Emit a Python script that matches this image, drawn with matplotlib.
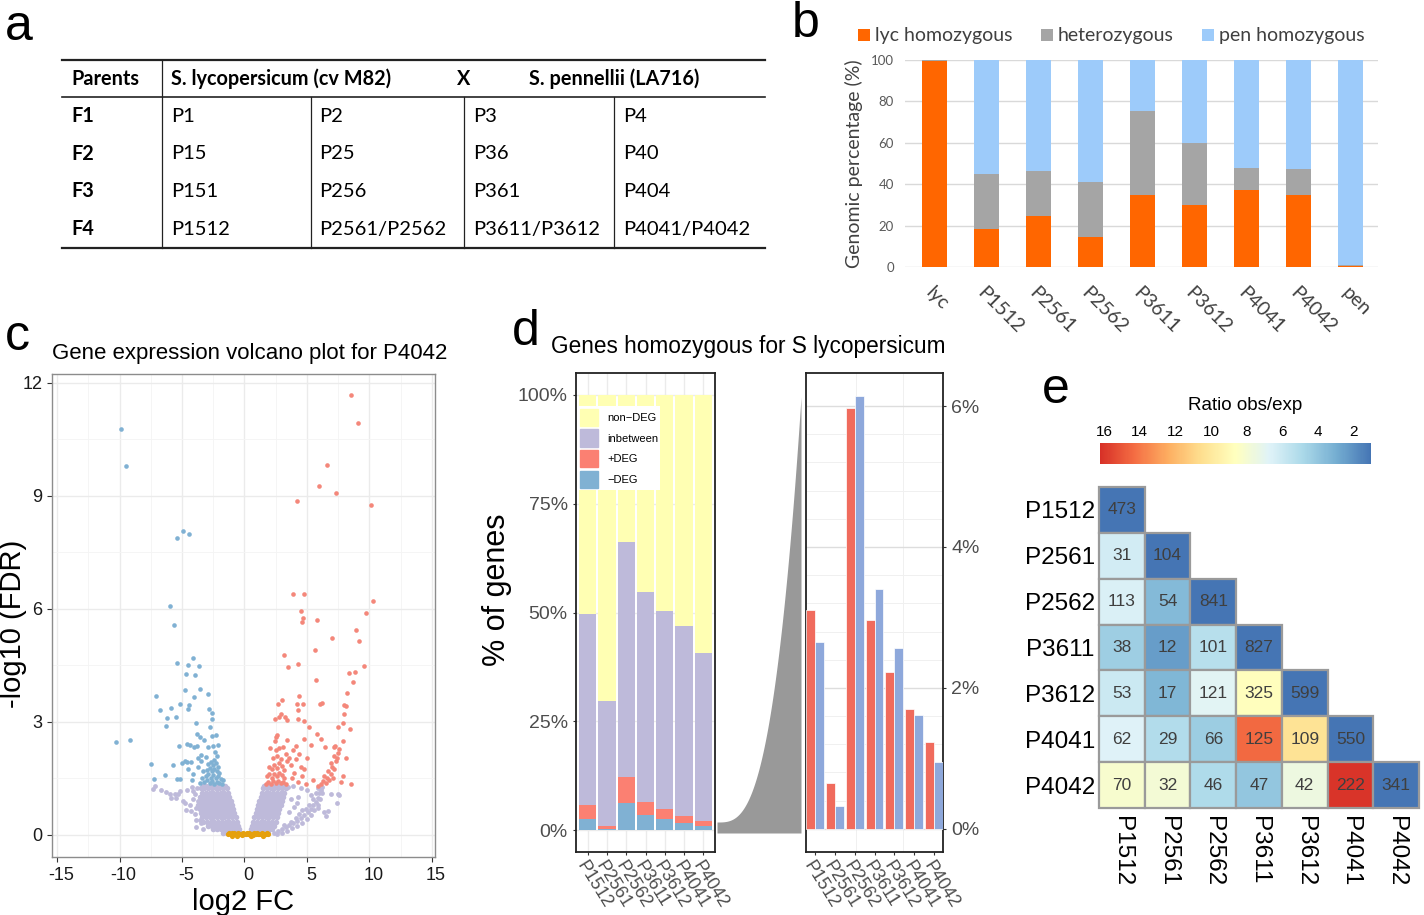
import matplotlib
matplotlib.use("Agg")
import matplotlib.pyplot as plt
import numpy as np
from matplotlib.colors import LinearSegmentedColormap, Normalize
from matplotlib.patches import Patch, Rectangle
from matplotlib.transforms import ScaledTranslation

plt.rcParams["font.family"] = ["Liberation Sans", "DejaVu Sans"]
plt.rcParams["axes.unicode_minus"] = False
CAL = ["Lato", "DejaVu Sans"]

W, H = 1424, 915

# ---------------- panel a: cross table ----------------
table_header = ["Parents", "S. lycopersicum (cv M82)", "X", "S. pennellii (LA716)"]
generations = ["F1", "F2", "F3", "F4"]
table_rows = [
    ["P1", "P2", "P3", "P4"],
    ["P15", "P25", "P36", "P40"],
    ["P151", "P256", "P361", "P404"],
    ["P1512", "P2561/P2562", "P3611/P3612", "P4041/P4042"],
]

# ---------------- panel b: genome composition ----------------
b_lines = ["lyc", "P1512", "P2561", "P2562", "P3611", "P3612", "P4041", "P4042", "pen"]
b_lyc = [99.5, 18.5, 24.5, 14.5, 35.0, 30.0, 37.0, 35.0, 0.5]
b_het = [0.5, 26.5, 22.0, 26.5, 40.5, 30.0, 11.0, 12.5, 0.5]
b_pen = [0.0, 55.0, 53.5, 59.0, 24.5, 40.0, 52.0, 52.5, 99.0]
b_names = ["lyc homozygous", "heterozygous", "pen homozygous"]
b_colors = ["#FF6600", "#A5A5A5", "#9DCBFA"]

# ---------------- panel c: volcano (log2 FC, -log10 FDR) ----------------
down_deg = [
    (-9.87, 10.76), (-9.52, 9.80), (-4.93, 8.07), (-5.39, 7.88), (-4.45, 7.97), (-5.95, 6.08),
    (-5.63, 5.56), (-5.44, 4.56), (-4.13, 4.68), (-4.5, 4.51), (-3.65, 4.48), (-4.67, 4.27),
    (-4.0, 4.23), (-4.75, 3.85), (-3.55, 3.87), (-4.05, 3.65), (-2.9, 3.73), (-7.07, 3.68),
    (-6.75, 3.32), (-5.87, 3.37), (-5.2, 3.47), (-4.43, 3.44), (-4.53, 3.34), (-2.88, 3.34),
    (-2.59, 3.22), (-6.19, 3.11), (-5.47, 3.12), (-6.27, 2.90), (-2.61, 3.07), (-3.92, 2.96),
    (-2.77, 2.86), (-3.81, 2.67), (-3.6, 2.60), (-3.23, 2.52), (-2.61, 2.63), (-2.27, 2.66),
    (-10.29, 2.47), (-9.2, 2.52), (-5.28, 2.36), (-4.59, 2.41), (-4.37, 2.39), (-3.81, 2.35),
    (-4.03, 2.33), (-2.96, 2.33), (-2.53, 2.35), (-2.13, 2.38), (-3.47, 2.11), (-3.07, 2.06),
    (-2.32, 2.20), (-2.21, 2.08), (-4.77, 1.97), (-4.61, 1.92), (-4.27, 1.94), (-4.99, 1.90),
    (-7.52, 1.88), (-5.73, 1.85), (-4.51, 1.75), (-4.13, 1.62), (-3.71, 1.80), (-6.35, 1.58),
    (-7.28, 1.47), (-5.39, 1.47), (-5.17, 1.47), (-4.21, 1.45),
    (-3.2, 1.40), (-3.0, 1.45), (-2.8, 1.38), (-2.6, 1.42), (-2.4, 1.36), (-2.2, 1.40),
    (-2.0, 1.37), (-1.8, 1.35), (-3.1, 1.55), (-2.9, 1.60), (-2.7, 1.52), (-2.5, 1.58),
    (-2.3, 1.50), (-2.1, 1.55), (-1.9, 1.48), (-3.0, 1.72), (-2.8, 1.78), (-2.6, 1.70),
    (-2.4, 1.75), (-2.2, 1.68), (-2.0, 1.65), (-2.9, 1.88), (-2.7, 1.92), (-2.5, 1.86),
    (-2.3, 1.90), (-2.45, 1.98), (-3.3, 1.70), (-3.4, 1.50), (-3.6, 1.38), (-1.7, 1.45),
    (-2.15, 1.80), (-3.5, 1.95), (-3.7, 2.05),
]
up_deg = [
    (8.53, 11.67), (9.12, 10.93), (6.59, 9.81), (6.0, 9.27), (7.31, 9.06), (4.24, 8.85),
    (10.16, 8.74), (3.92, 6.39), (4.75, 6.40), (10.29, 6.21), (4.56, 5.95), (9.73, 5.89),
    (4.67, 5.75), (5.81, 5.71), (4.59, 5.64), (8.91, 5.43), (6.99, 5.22), (9.2, 5.15),
    (5.63, 4.90), (3.15, 4.76), (3.49, 4.45), (4.29, 4.52), (9.57, 4.49), (8.37, 4.30),
    (8.85, 4.33), (5.73, 4.11), (8.69, 4.05), (4.35, 3.68), (8.19, 3.77), (2.99, 3.58),
    (2.72, 3.48), (4.24, 3.47), (4.72, 3.46), (6.08, 3.48), (6.21, 3.49), (7.95, 3.45),
    (8.13, 3.42), (4.29, 3.32), (2.93, 3.20), (3.23, 3.12), (7.95, 3.21), (2.48, 3.06),
    (2.75, 3.12), (4.29, 3.06), (4.77, 3.02), (3.44, 3.04), (7.87, 2.97), (5.2, 2.85),
    (7.52, 2.86), (8.45, 2.82), (5.79, 2.67), (2.59, 2.65), (2.53, 2.59), (2.43, 2.49),
    (4.77, 2.54), (6.16, 2.53), (3.41, 2.52), (7.87, 2.50), (6.45, 2.32), (7.15, 2.33),
    (7.28, 2.35), (5.33, 2.37), (4.16, 2.36), (2.05, 2.29), (3.09, 2.32),
    (1.7, 1.36), (1.9, 1.40), (2.1, 1.35), (2.3, 1.42), (2.5, 1.38), (2.7, 1.44), (2.9, 1.37),
    (3.1, 1.41), (3.3, 1.36), (1.8, 1.55), (2.0, 1.60), (2.2, 1.52), (2.4, 1.62), (2.6, 1.56),
    (2.8, 1.65), (3.0, 1.58), (3.2, 1.52), (2.0, 1.80), (2.2, 1.75), (2.4, 1.85), (2.6, 1.78),
    (2.8, 1.90), (3.0, 1.82), (3.2, 1.72), (3.4, 1.95), (2.3, 2.05), (2.6, 2.10), (2.9, 2.02),
    (3.3, 2.15), (2.5, 2.25), (2.8, 2.30), (3.6, 2.05), (3.8, 1.50), (4.0, 1.65), (4.3, 1.40),
    (4.6, 1.55), (3.7, 1.85), (4.1, 2.00), (4.5, 1.80), (4.9, 1.35), (3.9, 2.25), (4.4, 2.15),
    (5.0, 2.05), (4.8, 1.75), (6.1, 1.35), (6.3, 1.42), (6.4, 1.55), (6.6, 1.50), (6.7, 1.68),
    (6.9, 1.62), (7.0, 1.80), (7.2, 1.75), (7.3, 1.95), (7.4, 2.05), (7.5, 2.18), (7.6, 2.28),
    (6.5, 1.38), (6.8, 1.45), (7.1, 1.52), (6.9, 1.90), (7.2, 2.10), (7.7, 1.40), (8.5, 1.35),
    (5.9, 1.30), (5.5, 1.45), (7.9, 1.55), (8.1, 2.05),
]
# dense lavender arms, read row by row: (y, [x, ...])
inbetween_left = [
    (0.04, [-0.35, -0.6, -0.85, -1.1, -1.4, -1.7]),
    (0.14, [-0.42, -0.7, -1.0, -1.3, -1.6, -1.9, -2.2, -2.5]),
    (0.24, [-0.5, -0.8, -1.1, -1.4, -1.7, -2.0, -2.3, -2.6, -2.9]),
    (0.35, [-0.6, -0.9, -1.2, -1.5, -1.8, -2.1, -2.4, -2.7, -3.0, -3.3]),
    (0.46, [-0.7, -1.0, -1.3, -1.6, -1.9, -2.2, -2.5, -2.8, -3.1, -3.4]),
    (0.57, [-0.8, -1.1, -1.4, -1.7, -2.0, -2.3, -2.6, -2.9, -3.2, -3.5]),
    (0.68, [-0.9, -1.2, -1.5, -1.8, -2.1, -2.4, -2.7, -3.0, -3.3, -3.6]),
    (0.79, [-1.0, -1.3, -1.6, -1.9, -2.2, -2.5, -2.8, -3.1, -3.4, -3.7]),
    (0.90, [-1.1, -1.4, -1.7, -2.0, -2.3, -2.6, -2.9, -3.2, -3.5]),
    (1.01, [-1.2, -1.5, -1.8, -2.1, -2.4, -2.7, -3.0, -3.3, -3.6]),
    (1.12, [-1.3, -1.6, -1.9, -2.2, -2.5, -2.8, -3.1, -3.4]),
    (1.23, [-1.4, -1.7, -2.0, -2.3, -2.6, -2.9, -3.2, -3.5]),
    (1.30, [-1.55, -1.85, -2.15, -2.45, -2.75, -3.05, -3.35]),
]
inbetween_right = [
    (0.04, [0.4, 0.7, 1.0, 1.3, 1.6, 1.9]),
    (0.14, [0.5, 0.8, 1.1, 1.4, 1.7, 2.0, 2.2]),
    (0.24, [0.6, 0.9, 1.2, 1.5, 1.8, 2.1, 2.4]),
    (0.35, [0.7, 1.0, 1.3, 1.6, 1.9, 2.2, 2.5]),
    (0.46, [0.8, 1.1, 1.4, 1.7, 2.0, 2.3, 2.6]),
    (0.57, [0.9, 1.2, 1.5, 1.8, 2.1, 2.4, 2.7]),
    (0.68, [1.0, 1.3, 1.6, 1.9, 2.2, 2.5, 2.8]),
    (0.79, [1.1, 1.4, 1.7, 2.0, 2.3, 2.6, 2.9]),
    (0.90, [1.2, 1.5, 1.8, 2.1, 2.4, 2.7, 3.0]),
    (1.01, [1.3, 1.6, 1.9, 2.2, 2.5, 2.8, 3.1]),
    (1.12, [1.4, 1.7, 2.0, 2.3, 2.6, 2.9, 3.2]),
    (1.23, [1.5, 1.8, 2.1, 2.4, 2.7, 3.0, 3.3]),
    (1.30, [1.6, 1.9, 2.2, 2.5, 2.8, 3.1]),
]
inbetween_other = [
    (2.4, 0.06), (2.7, 0.1), (3.0, 0.15), (3.3, 0.2), (3.6, 0.25), (3.9, 0.3), (4.2, 0.37),
    (4.5, 0.44), (4.8, 0.52), (5.05, 0.6), (5.3, 0.68), (5.5, 0.78), (5.7, 0.88), (5.85, 0.98),
    (6.0, 1.1), (6.1, 1.2), (6.2, 1.28), (2.6, 0.02), (3.0, 0.06), (3.4, 0.11), (3.8, 0.17),
    (4.2, 0.24), (4.6, 0.32), (5.0, 0.43), (5.3, 0.53), (5.6, 0.66), (5.85, 0.8), (6.05, 0.95),
    (6.2, 1.1), (3.2, 0.26), (3.7, 0.35), (4.1, 0.45), (4.4, 0.55), (4.9, 0.68), (5.2, 0.8),
    (5.5, 0.95), (5.7, 1.1), (5.9, 1.25), (3.5, 1.28), (3.9, 1.3), (4.5, 1.25), (3.7, 0.95),
    (4.2, 0.85), (4.6, 0.65), (3.6, 0.6), (4.0, 0.75), (5.3, 1.05), (6.9, 1.07), (7.45, 1.09),
    (7.6, 1.06), (7.4, 0.85), (6.7, 0.62), (6.4, 0.6), (5.9, 0.7), (6.5, 0.5), (4.3, 1.0),
    (5.0, 1.2), (-7.18, 1.29), (-6.25, 1.14), (-5.98, 1.07), (-5.59, 1.07), (-5.19, 1.16),
    (-5.32, 1.07), (-5.85, 0.98), (-5.45, 0.98), (-4.92, 0.89), (-4.8, 0.84), (-4.71, 0.65),
    (-4.26, 0.62), (-4.0, 0.54), (-4.4, 0.8), (-3.86, 0.38), (-4.12, 1.16), (-3.98, 1.07),
    (-3.8, 1.25), (-3.59, 0.4), (-3.46, 0.31), (-3.7, 0.9), (-3.6, 0.7), (-4.6, 1.2), (-3.9, 0.2),
    (-3.3, 0.15), (-6.7, 1.2), (-7.3, 1.22), (-4.1, 0.95), (-3.9, 0.72), (-4.2, 1.28),
]
non_deg = [
    (-1.35, 0.02), (-1.2, 0.05), (-1.1, 0.01), (-1.0, 0.04), (-0.9, 0.02), (-0.8, 0.06),
    (-0.7, 0.01), (-0.6, 0.03), (-0.5, 0.05), (-0.4, 0.01), (-0.3, 0.03), (-0.2, 0.0),
    (-0.1, 0.04), (0.0, 0.02), (0.1, 0.01), (0.2, 0.04), (0.3, 0.02), (0.4, 0.05), (0.5, 0.01),
    (0.6, 0.03), (0.7, 0.0), (0.8, 0.04), (0.9, 0.02), (1.0, 0.05), (1.1, 0.01), (1.2, 0.03),
    (1.3, 0.02), (1.4, 0.04), (1.5, 0.01), (1.6, 0.03), (1.7, 0.02), (1.8, 0.04), (1.9, 0.01),
    (-1.0, -0.02), (0.5, -0.02), (1.5, -0.02), (-0.6, -0.02),
]

# ---------------- panel d: DEG fractions ----------------
d_lines = ["P1512", "P2561", "P2562", "P3611", "P3612", "P4041", "P4042"]
d_minus = [2.65, 0.33, 6.15, 3.40, 2.57, 1.61, 0.95]
d_plus = [3.10, 0.65, 5.97, 2.97, 2.22, 1.70, 1.23]
d_inbetween = [43.9, 28.6, 54.0, 48.4, 45.5, 43.5, 38.5]
d_nondeg = [50.35, 70.42, 33.88, 45.23, 49.71, 53.19, 59.32]
d_legend = ["non\u2212DEG", "inbetween", "+DEG", "\u2212DEG"]

# ---------------- panel e: co-occurrence ----------------
e_lines = ["P1512", "P2561", "P2562", "P3611", "P3612", "P4041", "P4042"]
e_counts = [
    [473],
    [31, 104],
    [113, 54, 841],
    [38, 12, 101, 827],
    [53, 17, 121, 325, 599],
    [62, 29, 66, 125, 109, 550],
    [70, 32, 46, 47, 42, 222, 341],
]
e_ratio = [
    [1.03],
    [6.2, 1.03],
    [6.5, 3.5, 1.03],
    [4.4, 2.4, 5.3, 1.03],
    [6.0, 3.4, 6.9, 8.7, 1.03],
    [6.7, 5.1, 4.3, 14.4, 10.3, 1.03],
    [8.1, 7.9, 5.0, 4.0, 7.5, 16.1, 1.03],
]
cbar_ticks = [16, 14, 12, 10, 8, 6, 4, 2]


def rect(x0, y0, x1, y1):
    return [x0 / W, 1 - y1 / H, (x1 - x0) / W, (y1 - y0) / H]


fig = plt.figure(figsize=(W / 100, H / 100), dpi=100)
ov = fig.add_axes([0, 0, 1, 1])
ov.set_xlim(0, W)
ov.set_ylim(H, 0)
ov.axis("off")

for lab, x, y in [("a", 5, 27), ("b", 792, 24), ("c", 5, 337), ("d", 512, 332), ("e", 1042, 390)]:
    ov.text(x, y, lab, fontsize=36, va="center", ha="left")

# ---- a ----
ov.plot([62, 765], [60, 60], color="#222222", lw=1.6)
ov.plot([62, 765], [97, 97], color="#222222", lw=1.2)
ov.plot([62, 765], [248, 248], color="#222222", lw=1.6)
ov.plot([162, 162], [60, 248], color="#222222", lw=0.9)
for xv in [311, 464, 614]:
    ov.plot([xv, xv], [97, 248], color="#222222", lw=0.9)
for txt, x in zip(table_header, [71, 171, 457, 529]):
    ov.text(x, 79, txt, family=CAL, fontsize=14.3, fontweight="bold", va="center")
col_x = [171, 319, 473, 623]
for i, (g, row) in enumerate(zip(generations, table_rows)):
    y = 116 + i * 37.7
    ov.text(71, y, g, family=CAL, fontsize=14.3, fontweight="bold", va="center")
    for x, cell in zip(col_x, row):
        ov.text(x, y, cell, family=CAL, fontsize=14.5, va="center")

# ---- b ----
axb = fig.add_axes(rect(905, 60, 1378, 267))
xb = np.arange(len(b_lines))
bot = np.zeros(len(b_lines))
for vals, col in zip([b_lyc, b_het, b_pen], b_colors):
    axb.bar(xb, vals, bottom=bot, width=0.48, color=col, zorder=3)
    bot += np.array(vals)
axb.set_xlim(-0.56, 8.52)
axb.set_ylim(0, 100)
axb.set_yticks([0, 20, 40, 60, 80, 100])
axb.yaxis.grid(True, color="#D9D9D9", lw=1.0, zorder=0)
for s in axb.spines.values():
    s.set_visible(False)
axb.tick_params(length=0)
axb.tick_params(axis="y", pad=8, labelsize=9.5, labelcolor="#595959")
for t in axb.get_yticklabels():
    t.set_family(CAL)
axb.set_xticks(xb)
axb.set_xticklabels(b_lines, rotation=-45, ha="left", va="top", rotation_mode="anchor",
                    family=CAL, fontsize=14, color="#404040")
axb.tick_params(axis="x", pad=12)
axb.set_ylabel("Genomic percentage (%)", family=CAL, fontsize=14, color="#404040", labelpad=6)
for (name, col), x0 in zip(zip(b_names, b_colors), [858, 1041, 1202]):
    ov.add_patch(Rectangle((x0, 29), 12, 12, color=col, lw=0))
    ov.text(x0 + 17, 35, name, family=CAL, fontsize=14, va="center", color="#404040")

# ---- c ----
axc = fig.add_axes(rect(52, 374, 435, 857))
lx = [x for y, xs in inbetween_left + inbetween_right for x in xs]
ly = [y for y, xs in inbetween_left + inbetween_right for x in xs]
lo = np.array(inbetween_other)
axc.scatter(lx, ly, s=16, color="#BEBADA", lw=0, zorder=3)
axc.scatter(lo[:, 0], lo[:, 1], s=12, color="#BEBADA", lw=0, zorder=3)
nd = np.array(non_deg)
axc.scatter(nd[:, 0], nd[:, 1], s=14, color="#E5A00D", lw=0, zorder=4)
dn = np.array(down_deg)
up = np.array(up_deg)
axc.scatter(dn[:, 0], dn[:, 1], s=11, color="#80B1D3", lw=0, zorder=5)
axc.scatter(up[:, 0], up[:, 1], s=11, color="#F4877A", lw=0, zorder=5)
axc.set_xlim(-15.4, 15.24)
axc.set_ylim(-0.59, 12.23)
axc.set_xticks([-15, -10, -5, 0, 5, 10, 15])
axc.set_yticks([0, 3, 6, 9, 12])
axc.set_xticks(np.arange(-12.5, 15, 5), minor=True)
axc.set_yticks([1.5, 4.5, 7.5, 10.5], minor=True)
axc.grid(True, which="major", color="#EBEBEB", lw=1.0, zorder=0)
axc.grid(True, which="minor", color="#F4F4F4", lw=0.6, zorder=0)
axc.set_axisbelow(True)
axc.tick_params(which="minor", length=0)
axc.tick_params(which="major", length=3.5, color="#333333", labelsize=13, labelcolor="#1A1A1A")
shift = ScaledTranslation(4 / 100, 0, fig.dpi_scale_trans)
for lbl in axc.get_xticklabels():
    lbl.set_transform(lbl.get_transform() + shift)
for s in axc.spines.values():
    s.set_color("#8C8C8C")
    s.set_linewidth(1.0)
axc.set_xlabel("log2 FC", fontsize=21, labelpad=3)
ov.text(13, 624, "-log10 (FDR)", fontsize=21, rotation=90, ha="center", va="center")
ov.text(52, 353, "Gene expression volcano plot for P4042", fontsize=16, va="center")

# ---- d ----
ov.text(551, 346, "Genes homozygous for S lycopersicum", fontsize=16.3, va="center")
axd1 = fig.add_axes(rect(576, 373, 715, 852))
xd = np.arange(len(d_lines))
bot = np.zeros(len(d_lines))
seg_cols = ["#80B1D3", "#FB8072", "#BEBADA", "#FFFFB3"]
for vals, col in zip([d_minus, d_plus, d_inbetween, d_nondeg], seg_cols):
    axd1.bar(xd, vals, bottom=bot, width=0.9, color=col, lw=0, zorder=3)
    bot += np.array(vals)
axd1.set_xlim(-0.6, 6.6)
axd1.set_ylim(-5, 105)
axd1.set_yticks([0, 25, 50, 75, 100])
axd1.set_yticklabels(["0%", "25%", "50%", "75%", "100%"])
axd1.set_xticks(xd)
axd1.set_xticklabels(d_lines, rotation=-58, ha="left", va="top", rotation_mode="anchor")
axd1.grid(True, color="#EBEBEB", lw=1.0, zorder=0)
axd1.set_axisbelow(True)
axd1.tick_params(length=2.5, color="#333333", labelsize=14, labelcolor="#4D4D4D")
axd1.tick_params(axis="x", labelsize=13, pad=2)
for s in axd1.spines.values():
    s.set_color("#222222")
    s.set_linewidth(1.3)
ov.text(497, 590, "% of genes", fontsize=22, rotation=90, ha="center", va="center")
handles = [Patch(color=c) for c in seg_cols[::-1]]
axd1.legend(handles, d_legend, loc="upper left", bbox_to_anchor=(0.0, 0.935), fontsize=8,
            frameon=True, fancybox=False, edgecolor="none", facecolor="white", framealpha=1,
            handlelength=1.6, handleheight=2.0, labelspacing=0.33, borderpad=0.2,
            handletextpad=0.8, borderaxespad=0.2)

axd2 = fig.add_axes(rect(806, 373, 943, 852))
axd2.bar(xd - 0.225, d_plus, width=0.45, color="#F06B5D", edgecolor="white", lw=0.5, zorder=3)
axd2.bar(xd + 0.225, d_minus, width=0.45, color="#8EA8DB", edgecolor="white", lw=0.5, zorder=3)
axd2.set_xlim(-0.45, 6.45)
axd2.set_ylim(-0.33, 6.47)
axd2.set_yticks([0, 2, 4, 6])
axd2.set_yticklabels(["0%", "2%", "4%", "6%"])
axd2.set_yticks(np.arange(0.4, 6.4, 0.4), minor=True)
axd2.yaxis.tick_right()
axd2.set_xticks(xd)
axd2.set_xticklabels(d_lines, rotation=-58, ha="left", va="top", rotation_mode="anchor")
axd2.set_xticks([2.05, 4.45], minor=True)
axd2.grid(True, which="major", axis="y", color="#DDDDDD", lw=1.0, zorder=0)
axd2.grid(True, which="minor", color="#F0F0F0", lw=0.7, zorder=0)
axd2.set_axisbelow(True)
axd2.tick_params(which="minor", length=0)
axd2.tick_params(length=2.5, color="#333333", labelsize=14, labelcolor="#4D4D4D")
axd2.tick_params(axis="x", labelsize=13, pad=2)
for s in axd2.spines.values():
    s.set_color("#222222")
    s.set_linewidth(1.3)

# grey zoom wedge between the two panels
t = np.linspace(0, 1, 120)
ov.fill_between(717 + 84 * t, 822 - 425 * t ** 3, 833, color="#999999", lw=0)

# ---- e ----
cmap = LinearSegmentedColormap.from_list(
    "rdylbu9", ["#4575B4", "#74ADD1", "#ABD9E9", "#E0F3F8", "#FFFFBF",
                "#FEE090", "#FDAE61", "#F46D43", "#D73027"])
norm = Normalize(vmin=1.03, vmax=16.22)
n = len(e_lines)
axe = fig.add_axes(rect(1099, 487, 1419, 808))
for i, (crow, rrow) in enumerate(zip(e_counts, e_ratio)):
    for j, (c, r) in enumerate(zip(crow, rrow)):
        axe.add_patch(Rectangle((j, i), 1, 1, facecolor=cmap(norm(r)), edgecolor="#9A9A9A",
                                lw=1.6, clip_on=False))
        axe.text(j + 0.5, i + 0.5, str(c), ha="center", va="center", fontsize=12.5,
                 color="#3F3F3F")
axe.set_xlim(0, n)
axe.set_ylim(n, 0)
axe.set_xticks(np.arange(n) + 0.5)
axe.set_xticklabels(e_lines, rotation=270, va="top", ha="center", fontsize=17.5)
axe.set_yticks(np.arange(n) + 0.5)
axe.set_yticklabels(e_lines, fontsize=17.5)
axe.tick_params(length=0)
axe.tick_params(axis="x", pad=6)
axe.tick_params(axis="y", pad=3)
for s in axe.spines.values():
    s.set_visible(False)

cax = fig.add_axes(rect(1100, 443, 1371, 464))
cb = fig.colorbar(plt.cm.ScalarMappable(norm=norm, cmap=cmap), cax=cax, orientation="horizontal")
cax.invert_xaxis()
cb.set_ticks(cbar_ticks)
cax.xaxis.set_ticks_position("top")
cax.tick_params(length=0, labelsize=11, pad=3)
cb.outline.set_visible(False)
ov.text(1245, 406, "Ratio obs/exp", fontsize=13.5, ha="center", va="center")

fig.savefig("out.png", dpi=100)
